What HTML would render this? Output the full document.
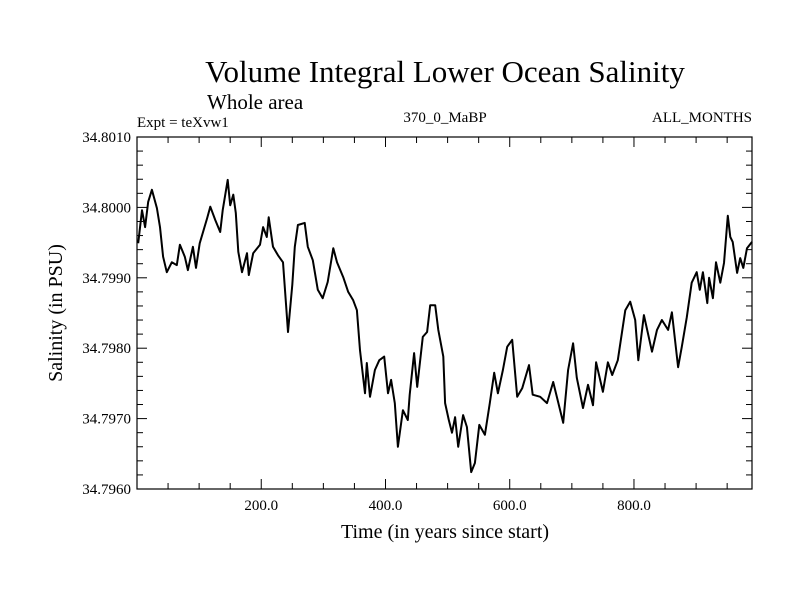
<!DOCTYPE html>
<html><head><meta charset="utf-8"><style>
body{margin:0;background:#fff;}
svg{display:block;font-family:"Liberation Serif",serif;}
</style></head><body>
<svg id="chart" width="800" height="600">
<rect width="800" height="600" fill="#fff"/>
<text x="445" y="82" font-size="31" text-anchor="middle">Volume Integral Lower Ocean Salinity</text>
<text x="207" y="109" font-size="21">Whole area</text>
<text x="137" y="127" font-size="15">Expt = teXvw1</text>
<text x="445" y="122" font-size="15" text-anchor="middle">370_0_MaBP</text>
<text x="752" y="122" font-size="15" text-anchor="end">ALL_MONTHS</text>
<g id="axes"></g>
<path id="line" fill="none" stroke="#000" stroke-width="2" stroke-linejoin="round"/>
<rect x="137" y="137" width="615" height="352" fill="none" stroke="#000" stroke-width="1.2"/>
<text x="445" y="538" font-size="20" text-anchor="middle">Time (in years since start)</text>
<text transform="translate(62,313) rotate(-90)" font-size="20" text-anchor="middle">Salinity (in PSU)</text>
</svg>
<script>
const years=[2,8,13,18,24,32,37,42,48,56,64,69,77,82,90,95,101,113,118,126,134,138,146,150,155,159,163,169,177,180,187,198,203,209,212,219,227,235,240,243,250,254,259,270,275,283,291,299,307,316,322,332,340,348,354,359,367,370,375,383,390,398,404,409,415,420,428,436,439,446,451,460,467,472,480,485,493,496,502,507,512,517,525,531,538,544,551,560,568,575,581,589,596,604,612,620,631,637,649,660,670,686,694,702,708,718,726,734,739,750,758,765,774,786,794,802,807,816,829,837,845,855,861,871,877,885,893,901,906,911,918,921,927,932,939,945,951,955,959,966,971,976,982,990];
const salinity=[34.79949,34.79996,34.79972,34.80008,34.80025,34.79999,34.79972,34.79930,34.79908,34.79922,34.79918,34.79947,34.79930,34.79911,34.79944,34.79914,34.79949,34.79985,34.80001,34.79982,34.79965,34.79996,34.80039,34.80003,34.80018,34.79992,34.79937,34.79908,34.79935,34.79904,34.79935,34.79947,34.79972,34.79958,34.79986,34.79944,34.79932,34.79922,34.79861,34.79823,34.79890,34.79944,34.79975,34.79978,34.79944,34.79925,34.79883,34.79871,34.79894,34.79942,34.79922,34.79901,34.79880,34.79868,34.79854,34.79797,34.79736,34.79779,34.79731,34.79769,34.79783,34.79788,34.79736,34.79755,34.79722,34.79660,34.79712,34.79698,34.79734,34.79793,34.79745,34.79816,34.79823,34.79861,34.79861,34.79826,34.79788,34.79722,34.79698,34.79680,34.79702,34.79660,34.79705,34.79688,34.79624,34.79637,34.79691,34.79677,34.79722,34.79765,34.79736,34.79769,34.79802,34.79812,34.79731,34.79743,34.79776,34.79734,34.79731,34.79722,34.79752,34.79694,34.79769,34.79807,34.79758,34.79715,34.79748,34.79719,34.79780,34.79738,34.79780,34.79762,34.79783,34.79854,34.79866,34.79840,34.79783,34.79847,34.79795,34.79826,34.79840,34.79826,34.79851,34.79773,34.79802,34.79844,34.79893,34.79908,34.79883,34.79908,34.79864,34.79900,34.79871,34.79922,34.79893,34.79921,34.79988,34.79958,34.79951,34.79907,34.79928,34.79914,34.79942,34.79951];
const xTickLabels=["200.0","400.0","600.0","800.0"];
const xTickValues=[200,400,600,800];
const yTickLabels=["34.7960","34.7970","34.7980","34.7990","34.8000","34.8010"];
const yTickValues=[34.796,34.797,34.798,34.799,34.800,34.801];

const X0=137,X1=752,Y0=489,Y1=137,XMIN=0,XMAX=990,YMIN=34.796,YMAX=34.801;
function xs(v){return X0+(v-XMIN)/(XMAX-XMIN)*(X1-X0);}
function ys(v){return Y0-(v-YMIN)/(YMAX-YMIN)*(Y0-Y1);}
const NS="http://www.w3.org/2000/svg";
const ax=document.getElementById('axes');
function ln(x1,y1,x2,y2,name){const l=document.createElementNS(NS,'line');
l.setAttribute('x1',x1);l.setAttribute('y1',y1);l.setAttribute('x2',x2);l.setAttribute('y2',y2);
l.setAttribute('stroke','#000');l.setAttribute('stroke-width','1');


ax.appendChild(l);}
function tx(x,y,s,anchor,name){const t=document.createElementNS(NS,'text');
t.setAttribute('x',x);t.setAttribute('y',y);t.setAttribute('font-size','15');t.setAttribute('text-anchor',anchor);t.textContent=s;


ax.appendChild(t);}
for(let v=50;v<XMAX;v+=50){const x=xs(v);const major=v%200===0;const L=major?10:6;
ln(x,Y0,x,Y0-L,'x-tick');ln(x,Y1,x,Y1+L,'x-tick-top');}
for(let i=1;i<25;i++){const v=YMIN+i*0.0002;const y=ys(v);const major=i%5===0;const L=major?10:6;
ln(X0,y,X0+L,y,'y-tick');ln(X1,y,X1-L,y,'y-tick-right');}
xTickValues.forEach((v,i)=>tx(xs(v),510,xTickLabels[i],'middle','x-tick-label'));
yTickValues.forEach((v,i)=>tx(131,ys(v)+5,yTickLabels[i],'end','y-tick-label'));
let d='';years.forEach((v,i)=>{d+=(i?'L':'M')+xs(v).toFixed(1)+','+ys(salinity[i]).toFixed(1);});
document.getElementById('line').setAttribute('d',d);
</script>
</body></html>
